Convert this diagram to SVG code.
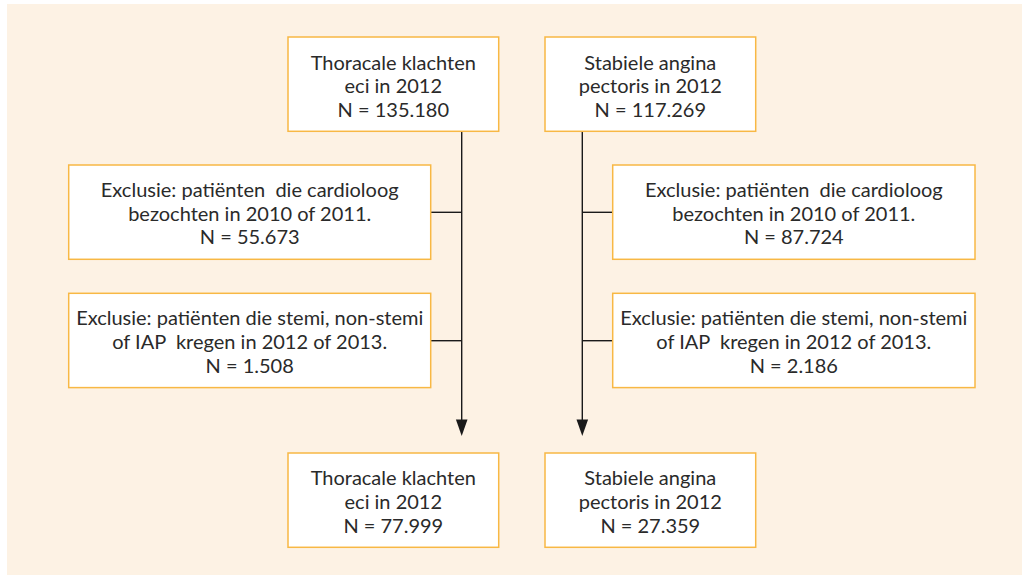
<svg xmlns="http://www.w3.org/2000/svg" width="1022" height="575" viewBox="0 0 1022 575">
<defs>
<style>
.bg{fill:#FDF2E4}
.box{fill:#FFFFFF;stroke:#F8B844;stroke-width:1.5}
.t{font-family:Lato,"Open Sans","Noto Sans",sans-serif;font-size:20px;fill:#2A2A2A;text-anchor:middle;white-space:pre}
.c{fill:none;stroke:#1A1A1A;stroke-width:1.4}
</style>
<marker id="arr" viewBox="0 0 12 16" refX="12" refY="6" markerWidth="12" markerHeight="16" orient="auto" markerUnits="userSpaceOnUse">
<path d="M0,0 L16,6 L0,12 Z" fill="#1A1A1A"/>
</marker>
</defs>
<rect class="bg" x="7" y="4" width="1015" height="571"/>
<g id="connectors">
<line class="c" x1="461.7" y1="131.3" x2="461.7" y2="420"/>
<path d="M455.9,419.5 L467.5,419.5 L461.7,436 Z" fill="#1A1A1A"/>
<line class="c" x1="582.3" y1="131.3" x2="582.3" y2="420"/>
<path d="M576.5,419.5 L588.1,419.5 L582.3,436 Z" fill="#1A1A1A"/>
<line class="c" x1="430.7" y1="212.3" x2="461.7" y2="212.3"/>
<line class="c" x1="430.7" y1="340.7" x2="461.7" y2="340.7"/>
<line class="c" x1="582.3" y1="212.3" x2="612.7" y2="212.3"/>
<line class="c" x1="582.3" y1="340.7" x2="612.7" y2="340.7"/>
</g>
<g id="n1">
<rect class="box" x="288" y="37" width="210.7" height="94.3"/>
<text class="t" x="393.3" y="69.5">Thoracale klachten</text>
<text class="t" x="393.3" y="93.2">eci in 2012</text>
<text class="t" x="393.3" y="116.9">N = 135.180</text>
</g>
<g id="n2">
<rect class="box" x="545" y="37" width="210.7" height="94.3"/>
<text class="t" x="650.3" y="69.5">Stabiele angina</text>
<text class="t" x="650.3" y="93.2">pectoris in 2012</text>
<text class="t" x="650.3" y="116.9">N = 117.269</text>
</g>
<g id="n3">
<rect class="box" x="68.7" y="165" width="362" height="94.3"/>
<text class="t" x="249.7" y="196.9">Exclusie: patiënten  die cardioloog</text>
<text class="t" x="249.7" y="220.6">bezochten in 2010 of 2011.</text>
<text class="t" x="249.7" y="244.3">N = 55.673</text>
</g>
<g id="n4">
<rect class="box" x="612.7" y="165" width="362.3" height="94.3"/>
<text class="t" x="793.8" y="196.9">Exclusie: patiënten  die cardioloog</text>
<text class="t" x="793.8" y="220.6">bezochten in 2010 of 2011.</text>
<text class="t" x="793.8" y="244.3">N = 87.724</text>
</g>
<g id="n5">
<rect class="box" x="68.7" y="293.3" width="362" height="94.3"/>
<text class="t" x="249.7" y="325.2">Exclusie: patiënten die stemi, non-stemi</text>
<text class="t" x="249.7" y="348.9">of IAP  kregen in 2012 of 2013.</text>
<text class="t" x="249.7" y="372.6">N = 1.508</text>
</g>
<g id="n6">
<rect class="box" x="612.7" y="293.3" width="362.3" height="94.3"/>
<text class="t" x="793.8" y="325.2">Exclusie: patiënten die stemi, non-stemi</text>
<text class="t" x="793.8" y="348.9">of IAP  kregen in 2012 of 2013.</text>
<text class="t" x="793.8" y="372.6">N = 2.186</text>
</g>
<g id="n7">
<rect class="box" x="288" y="453" width="210.7" height="94.3"/>
<text class="t" x="393.3" y="485.2">Thoracale klachten</text>
<text class="t" x="393.3" y="508.9">eci in 2012</text>
<text class="t" x="393.3" y="532.6">N = 77.999</text>
</g>
<g id="n8">
<rect class="box" x="545" y="453" width="210.7" height="94.3"/>
<text class="t" x="650.3" y="485.2">Stabiele angina</text>
<text class="t" x="650.3" y="508.9">pectoris in 2012</text>
<text class="t" x="650.3" y="532.6">N = 27.359</text>
</g>
</svg>
